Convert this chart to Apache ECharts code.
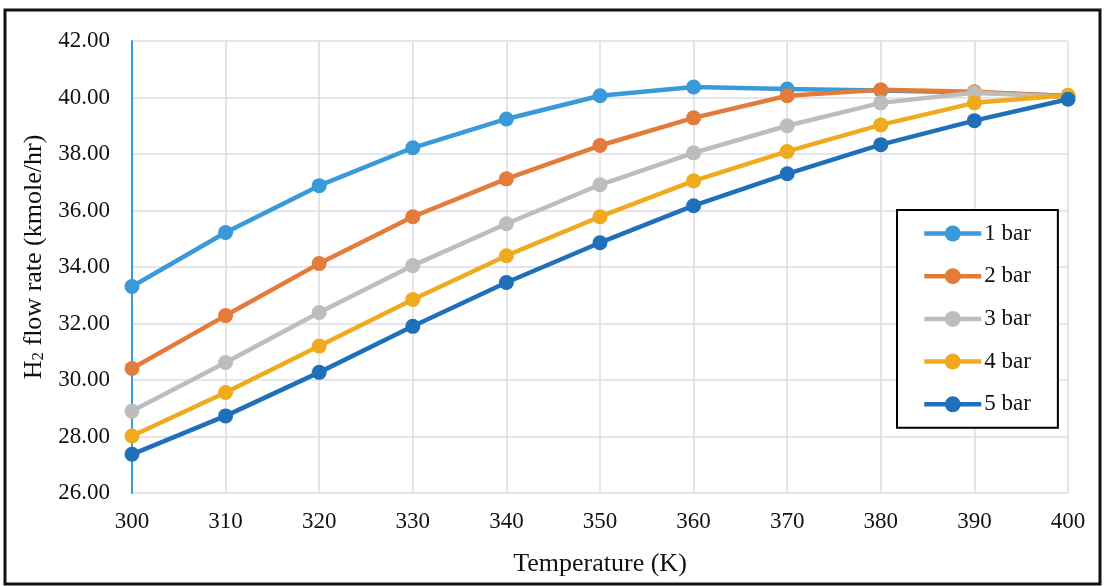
<!DOCTYPE html>
<html>
<head>
<meta charset="utf-8">
<script src="https://cdn.jsdelivr.net/npm/echarts@6/dist/echarts.min.js"></script>
<style>html,body{margin:0;padding:0;background:#fff;}#c{width:1105px;height:586px;}</style>
</head>
<body>
<div id="c"></div>
<script>
const temperatures = [300, 310, 320, 330, 340, 350, 360, 370, 380, 390, 400];
const seriesNames = ['1 bar', '2 bar', '3 bar', '4 bar', '5 bar'];
const bar1 = [33.31, 35.22, 36.88, 38.22, 39.24, 40.06, 40.37, 40.30, 40.25, 40.18, 40.05];
const bar2 = [30.41, 32.28, 34.12, 35.78, 37.12, 38.30, 39.28, 40.06, 40.27, 40.20, 40.05];
const bar3 = [28.90, 30.62, 32.39, 34.05, 35.53, 36.91, 38.04, 39.00, 39.81, 40.17, 40.02];
const bar4 = [28.02, 29.56, 31.20, 32.85, 34.40, 35.78, 37.05, 38.09, 39.03, 39.81, 40.08];
const bar5 = [27.37, 28.73, 30.27, 31.90, 33.45, 34.86, 36.17, 37.30, 38.33, 39.18, 39.94];
const yTicks = {min: 26, max: 42, interval: 2};
const xTicks = {min: 300, max: 400, interval: 10};

const colors = ['#3A9AD9', '#E37B3A', '#BDBDBD', '#F0AA1E', '#1F70B8'];
const allData = [bar1, bar2, bar3, bar4, bar5];
const font = '"Liberation Serif", "DejaVu Serif", serif';

const chart = echarts.init(document.getElementById('c'), null, {renderer: 'canvas'});
chart.setOption({
  animation: false,
  backgroundColor: '#fff',
  color: colors,
  grid: {left: 132, right: 37, top: 41, bottom: 93, containLabel: false},
  graphic: [{
    type: 'rect', shape: {x: 5, y: 10, width: 1095, height: 574},
    style: {fill: 'none', stroke: '#111', lineWidth: 3}, silent: true
  }],
  legend: {
    orient: 'vertical', left: 897, top: 210,
    backgroundColor: '#fff',
    borderColor: '#000', borderWidth: 2,
    padding: [12, 27, 12, 25],
    itemWidth: 57, itemHeight: 20, itemGap: 19.7,
    lineStyle: {width: 4.5},
    textStyle: {fontFamily: font, fontSize: 23, lineHeight: 20, color: '#111', padding: [0, 0, 0, -2]},
    data: seriesNames
  },
  xAxis: {
    type: 'value', min: xTicks.min, max: xTicks.max, interval: xTicks.interval,
    name: 'Temperature (K)', nameLocation: 'middle', nameGap: 58,
    nameTextStyle: {fontFamily: font, fontSize: 26, color: '#111'},
    axisLine: {show: false}, axisTick: {show: false},
    axisLabel: {fontFamily: font, fontSize: 23, color: '#111', margin: 17},
    splitLine: {show: true, lineStyle: {color: '#DCDCE6', width: 1.5}}
  },
  yAxis: {
    type: 'value', min: yTicks.min, max: yTicks.max, interval: yTicks.interval,
    name: '{a|H}{s|2}{a| flow rate (kmole/hr)}', nameLocation: 'middle', nameGap: 80,
    nameTextStyle: {
      padding: [0, 0, 0, 20],
      rich: {
        a: {fontFamily: font, fontSize: 26, color: '#111'},
        s: {fontFamily: font, fontSize: 17, color: '#111', verticalAlign: 'bottom', padding: [10, 0, 0, 0]}
      }
    },
    axisLine: {show: true, onZero: false, lineStyle: {color: '#3A9AD9', width: 2}},
    axisTick: {show: false},
    axisLabel: {fontFamily: font, fontSize: 23, color: '#111', margin: 22,
      formatter: v => v.toFixed(2)},
    splitLine: {show: true, lineStyle: {color: '#DCDCE6', width: 1.5}}
  },
  series: seriesNames.map((n, i) => ({
    name: n, type: 'line',
    data: temperatures.map((t, j) => [t, allData[i][j]]),
    symbol: 'circle', symbolSize: 15,
    lineStyle: {width: 4.5, color: colors[i]},
    itemStyle: {color: colors[i]},
    z: 2 + i
  }))
});
</script>
</body>
</html>
